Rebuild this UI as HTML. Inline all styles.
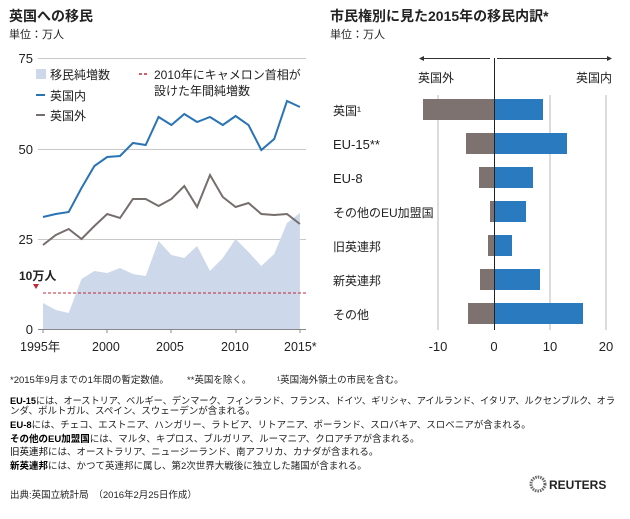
<!DOCTYPE html>
<html><head><meta charset="utf-8"><style>
body{margin:0;background:#fff;}
svg text{font-family:"Liberation Sans","Noto Sans CJK JP",sans-serif;fill:#222;}
</style></head><body>
<svg width="630" height="514" viewBox="0 0 630 514" xmlns="http://www.w3.org/2000/svg">
<text x="9" y="21" font-size="14" font-weight="bold">英国への移民</text>
<text x="9" y="38" font-size="11">単位：万人</text>
<text x="330" y="21" font-size="14" font-weight="bold">市民権別に見た2015年の移民内訳*</text>
<text x="330" y="38" font-size="11">単位：万人</text>
<g stroke="#c8c8c8" stroke-width="1">
<line x1="38" y1="58.5" x2="306" y2="58.5"/>
<line x1="38" y1="149.5" x2="306" y2="149.5"/>
<line x1="38" y1="239.5" x2="306" y2="239.5"/>
</g>
<g font-size="13" text-anchor="end" fill="#333">
<text x="33" y="63">75</text><text x="33" y="154">50</text><text x="33" y="244">25</text><text x="33" y="334">0</text>
</g>
<polygon fill="#cdd8ea" points="43,329 43,303 55.8,310 68.7,313 81.5,279 94.4,271 107.2,273 120,268 132.9,274 145.7,276 158.6,241 171.4,255 184.3,258 197.1,246 210,271 222.8,258 235.6,239 248.5,252 261.3,266 274.2,254 287,223 299.9,213 299.9,329"/>
<line x1="38" y1="329.5" x2="306" y2="329.5" stroke="#888" stroke-width="1"/>
<g stroke="#888"><line x1="107" y1="329" x2="107" y2="333"/><line x1="171" y1="329" x2="171" y2="333"/><line x1="236" y1="329" x2="236" y2="333"/><line x1="300" y1="329" x2="300" y2="333"/><line x1="43" y1="329" x2="43" y2="333"/></g>
<line x1="43" y1="293" x2="306" y2="293" stroke="#c0283a" stroke-width="1" stroke-dasharray="3,2"/>
<polygon points="33,284 39,284 36,289" fill="#c0283a"/>
<text x="19" y="280" font-size="12" font-weight="bold">10万人</text>
<polyline fill="none" stroke="#756e6c" stroke-width="2" points="43,245 55.8,235 68.7,229 81.5,239 94.4,226 107.2,214 120,218 132.9,199 145.7,199 158.6,206 171.4,199 184.3,186 197.1,207 210,175 222.8,197 235.6,207 248.5,203 261.3,214 274.2,215 287,214 299.9,224"/>
<polyline fill="none" stroke="#2a73b5" stroke-width="2" points="43,217 55.8,214 68.7,212 81.5,188 94.4,166 107.2,157 120,156 132.9,143 145.7,145 158.6,117 171.4,125 184.3,114 197.1,122 210,117 222.8,125 235.6,116 248.5,125 261.3,150 274.2,139 287,101 299.9,107"/>
<rect x="36" y="69" width="10" height="10" fill="#cdd8ea"/>
<text x="50" y="79" font-size="12">移民純増数</text>
<line x1="36" y1="95" x2="45" y2="95" stroke="#2a73b5" stroke-width="2"/>
<text x="50" y="100" font-size="12">英国内</text>
<line x1="36" y1="115" x2="45" y2="115" stroke="#756e6c" stroke-width="2"/>
<text x="50" y="120" font-size="12">英国外</text>
<line x1="139" y1="74" x2="149" y2="74" stroke="#c0283a" stroke-width="1.5" stroke-dasharray="3,2"/>
<text x="154" y="79" font-size="12">2010年にキャメロン首相が</text>
<text x="154" y="95" font-size="12">設けた年間純増数</text>
<g font-size="12.5" fill="#333">
<text x="20" y="351">1995年</text><text x="92" y="351">2000</text><text x="156" y="351">2005</text><text x="221" y="351">2010</text><text x="284" y="351">2015*</text>
</g>
<g stroke="#d0d0d0" stroke-width="1.5">
<line x1="438" y1="95" x2="438" y2="330"/><line x1="550" y1="95" x2="550" y2="330"/><line x1="606" y1="95" x2="606" y2="330"/>
</g>
<line x1="421" y1="58.5" x2="490" y2="58.5" stroke="#333"/>
<line x1="497" y1="58.5" x2="610" y2="58.5" stroke="#333"/>
<polygon points="419,58.5 424,56 424,61" fill="#333"/>
<polygon points="612,58.5 607,56 607,61" fill="#333"/>
<text x="418" y="82" font-size="12">英国外</text>
<text x="576" y="82" font-size="12">英国内</text>
<g fill="#7d7270">
<rect x="423" y="99" width="71" height="21"/>
<rect x="466" y="133" width="28" height="21"/>
<rect x="479" y="167" width="15" height="21"/>
<rect x="490" y="201" width="4" height="21"/>
<rect x="488" y="235" width="6" height="21"/>
<rect x="480" y="269" width="14" height="21"/>
<rect x="468" y="303" width="26" height="21"/>
</g>
<g fill="#2a7abf">
<rect x="494" y="99" width="49" height="21"/>
<rect x="494" y="133" width="73" height="21"/>
<rect x="494" y="167" width="39" height="21"/>
<rect x="494" y="201" width="32" height="21"/>
<rect x="494" y="235" width="18" height="21"/>
<rect x="494" y="269" width="46" height="21"/>
<rect x="494" y="303" width="89" height="21"/>
</g>
<line x1="494.5" y1="58" x2="494.5" y2="330" stroke="#222" stroke-width="1"/>
<g font-size="12">
<text x="333" y="115">英国¹</text>
<text x="333" y="149" font-size="13">EU-15**</text>
<text x="333" y="183" font-size="13">EU-8</text>
<text x="333" y="217">その他のEU加盟国</text>
<text x="333" y="251">旧英連邦</text>
<text x="333" y="285">新英連邦</text>
<text x="333" y="319">その他</text>
</g>
<g font-size="13" text-anchor="middle" fill="#333">
<text x="438" y="351">-10</text><text x="494" y="351">0</text><text x="550" y="351">10</text><text x="606" y="351">20</text>
</g>
<g font-size="9.5" fill="#333">
<text x="10" y="383">*2015年9月までの1年間の暫定数値。</text>
<text x="187" y="383">**英国を除く。</text>
<text x="277" y="383">¹英国海外領土の市民を含む。</text>
<text x="10" y="404" textLength="605" lengthAdjust="spacingAndGlyphs"><tspan fill="#000" font-weight="bold">EU-15</tspan>には、オーストリア、ベルギー、デンマーク、フィンランド、フランス、ドイツ、ギリシャ、アイルランド、イタリア、ルクセンブルク、オラ</text>
<text x="10" y="414">ンダ、ポルトガル、スペイン、スウェーデンが含まれる。</text>
<text x="10" y="428"><tspan fill="#000" font-weight="bold">EU-8</tspan>には、チェコ、エストニア、ハンガリー、ラトビア、リトアニア、ポーランド、スロバキア、スロベニアが含まれる。</text>
<text x="10" y="442"><tspan fill="#000" font-weight="bold">その他のEU加盟国</tspan>には、マルタ、キプロス、ブルガリア、ルーマニア、クロアチアが含まれる。</text>
<text x="10" y="455"><tspan fill="#000">旧英連邦</tspan>には、オーストラリア、ニュージーランド、南アフリカ、カナダが含まれる。</text>
<text x="10" y="469"><tspan fill="#000" font-weight="bold">新英連邦</tspan>には、かつて英連邦に属し、第2次世界大戦後に独立した諸国が含まれる。</text>
<text x="10" y="498">出典:英国立統計局　（2016年2月25日作成）</text>
</g>
<circle cx="538" cy="484" r="7" fill="none" stroke="#666" stroke-width="3" stroke-dasharray="1.5,1"/>
<text x="549" y="489" font-size="12" font-weight="bold" fill="#222">REUTERS</text>
</svg>
</body></html>
